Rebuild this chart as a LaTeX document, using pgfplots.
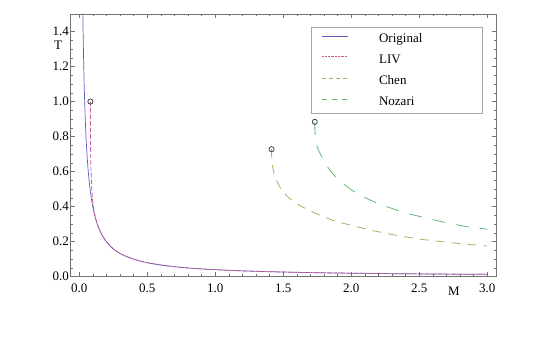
\documentclass[border=0pt]{standalone}
\usepackage{pgfplots}
\pgfplotsset{compat=1.18}
\usepackage{fontspec}
\setmainfont{Liberation Serif}
\definecolor{corig}{rgb}{0.38,0.36,0.74}
\definecolor{cliv}{rgb}{0.78,0.36,0.60}
\definecolor{cchen}{rgb}{0.72,0.65,0.40}
\definecolor{cnoz}{rgb}{0.38,0.72,0.46}
\definecolor{frame}{rgb}{0.45,0.45,0.45}
\begin{document}
\begin{tikzpicture}
\begin{axis}[
  scale only axis, width=426pt, height=262.7pt,
  xmin=-0.068, xmax=3.065, ymin=0, ymax=1.5,
  axis line style={frame, line width=0.6pt},
  xtick={0,0.5,1,1.5,2,2.5,3},
  xticklabels={\mbox{0.0},\mbox{0.5},\mbox{1.0},\mbox{1.5},\mbox{2.0},\mbox{2.5},\mbox{3.0}},
  ytick={0,0.2,0.4,0.6,0.8,1.0,1.2,1.4},
  yticklabels={\mbox{0.0},\mbox{0.2},\mbox{0.4},\mbox{0.6},\mbox{0.8},\mbox{1.0},\mbox{1.2},\mbox{1.4}},
  minor x tick num=4, minor y tick num=3,
  tick align=inside, major tick length=4.5pt, minor tick length=2.5pt,
  every tick/.append style={frame, line width=0.5pt},
  tick label style={font=\fontsize{13}{15}\selectfont\rmfamily, black},
  xticklabel style={yshift=-4pt},
  yticklabel style={xshift=2.5pt},
  /pgf/number format/assume math mode=true,
  legend image code/.code={\draw[#1] (0pt,3pt) -- (26pt,3pt);},
  legend cell align=left,
  legend style={at={(axis description cs:0.968,0.949)}, anchor=north east,
    draw=gray!70, line width=0.6pt, inner xsep=10pt, inner ysep=5pt,
    row sep=8.5pt, column sep=31pt,
    nodes={inner sep=0pt, text height=9.5pt, text depth=3pt, font=\fontsize{13}{15}\selectfont}},
  clip mode=individual,
]
\addplot[corig, line width=0.7pt] coordinates {
(0.0266,1.496)(0.028,1.421)(0.03,1.327)(0.033,1.206)(0.036,1.106)(0.04,0.995)
(0.044,0.905)(0.048,0.829)(0.053,0.751)(0.058,0.686)(0.064,0.622)(0.07,0.569)
(0.077,0.517)(0.085,0.468)(0.093,0.428)(0.1,0.398)(0.11,0.362)(0.12,0.332)
(0.13,0.306)(0.14,0.284)(0.155,0.257)(0.17,0.234)(0.19,0.209)(0.21,0.190)
(0.235,0.169)(0.26,0.153)(0.29,0.137)(0.32,0.124)(0.36,0.111)(0.4,0.0995)
(0.45,0.0884)(0.5,0.0796)(0.6,0.0663)(0.7,0.0569)(0.8,0.0498)(0.9,0.0442)
(1.0,0.0398)(1.2,0.0332)(1.4,0.0284)(1.6,0.0249)(1.8,0.0221)(2.0,0.0199)
(2.3,0.0173)(2.6,0.0153)(3.0,0.0133)};
\addlegendentry{\makebox[93pt][l]{Original}}
\addplot[cliv, line width=0.8pt, dash pattern=on 4.5pt off 2pt,
  legend image post style={cliv, line width=1pt, dash pattern=on 2.3pt off 1pt}] coordinates {
(0.082,1.0)(0.0822,0.9)(0.0828,0.8)(0.084,0.7)(0.086,0.62)(0.089,0.55)
(0.093,0.49)(0.098,0.44)(0.104,0.4)(0.112,0.362)(0.12,0.335)(0.13,0.307)
(0.14,0.285)(0.155,0.258)(0.17,0.235)(0.19,0.210)(0.21,0.191)
(0.235,0.170)(0.26,0.154)(0.29,0.138)(0.32,0.125)(0.36,0.112)(0.4,0.100)
(0.45,0.0889)(0.5,0.0800)(0.6,0.0666)(0.7,0.0571)(0.8,0.0500)(0.9,0.0444)
(1.0,0.0400)(1.2,0.0333)(1.4,0.0285)(1.6,0.0250)(1.8,0.0222)(2.0,0.0200)
(2.3,0.0174)(2.6,0.0154)(3.0,0.0134)};
\addlegendentry{LIV}
\addplot[cchen, line width=0.8pt, dash pattern=on 9pt off 7pt,
  legend image post style={dash pattern=on 4pt off 3pt}] coordinates {
(1.4142,0.728)(1.415,0.69)(1.42,0.64)(1.432,0.591)(1.45,0.55)(1.488,0.495)
(1.53,0.458)(1.574,0.429)(1.63,0.403)(1.684,0.381)(1.75,0.358)(1.807,0.339)
(1.87,0.321)(1.941,0.305)(2.0,0.293)(2.064,0.281)(2.16,0.263)(2.285,0.243)
(2.407,0.226)(2.53,0.212)(2.665,0.200)(2.787,0.190)(2.9,0.182)(3.0,0.175)};
\addlegendentry{Chen}
\addplot[cnoz, line width=0.8pt, dash pattern=on 13pt off 11pt,
  legend image post style={dash pattern=on 5pt off 5pt}] coordinates {
(1.7321,0.884)(1.733,0.84)(1.737,0.79)(1.75,0.74)(1.77,0.705)(1.81,0.645)
(1.856,0.595)(1.917,0.545)(2.003,0.495)(2.076,0.462)(2.16,0.43)(2.248,0.403)
(2.346,0.378)(2.43,0.358)(2.53,0.339)(2.628,0.321)(2.713,0.306)(2.824,0.289)
(2.9,0.280)(3.0,0.271)};
\addlegendentry{Nozari}
\addplot[only marks, mark=o, mark size=2.6pt, black!80, line width=0.7pt,
  mark options={fill=white}, forget plot] coordinates {
(0.082,1.0)(1.4142,0.728)(1.7321,0.884)};
\node[font=\fontsize{13}{15}\selectfont] at (axis description cs:-0.028,0.880) {T};
\node[font=\fontsize{13}{15}\selectfont] at (axis description cs:0.901,-0.057) {M};
\end{axis}
\path (current axis.south west) ++(-70pt,-70.3pt);
\path (current axis.north east) ++(44pt,14pt);
\end{tikzpicture}
\end{document}
